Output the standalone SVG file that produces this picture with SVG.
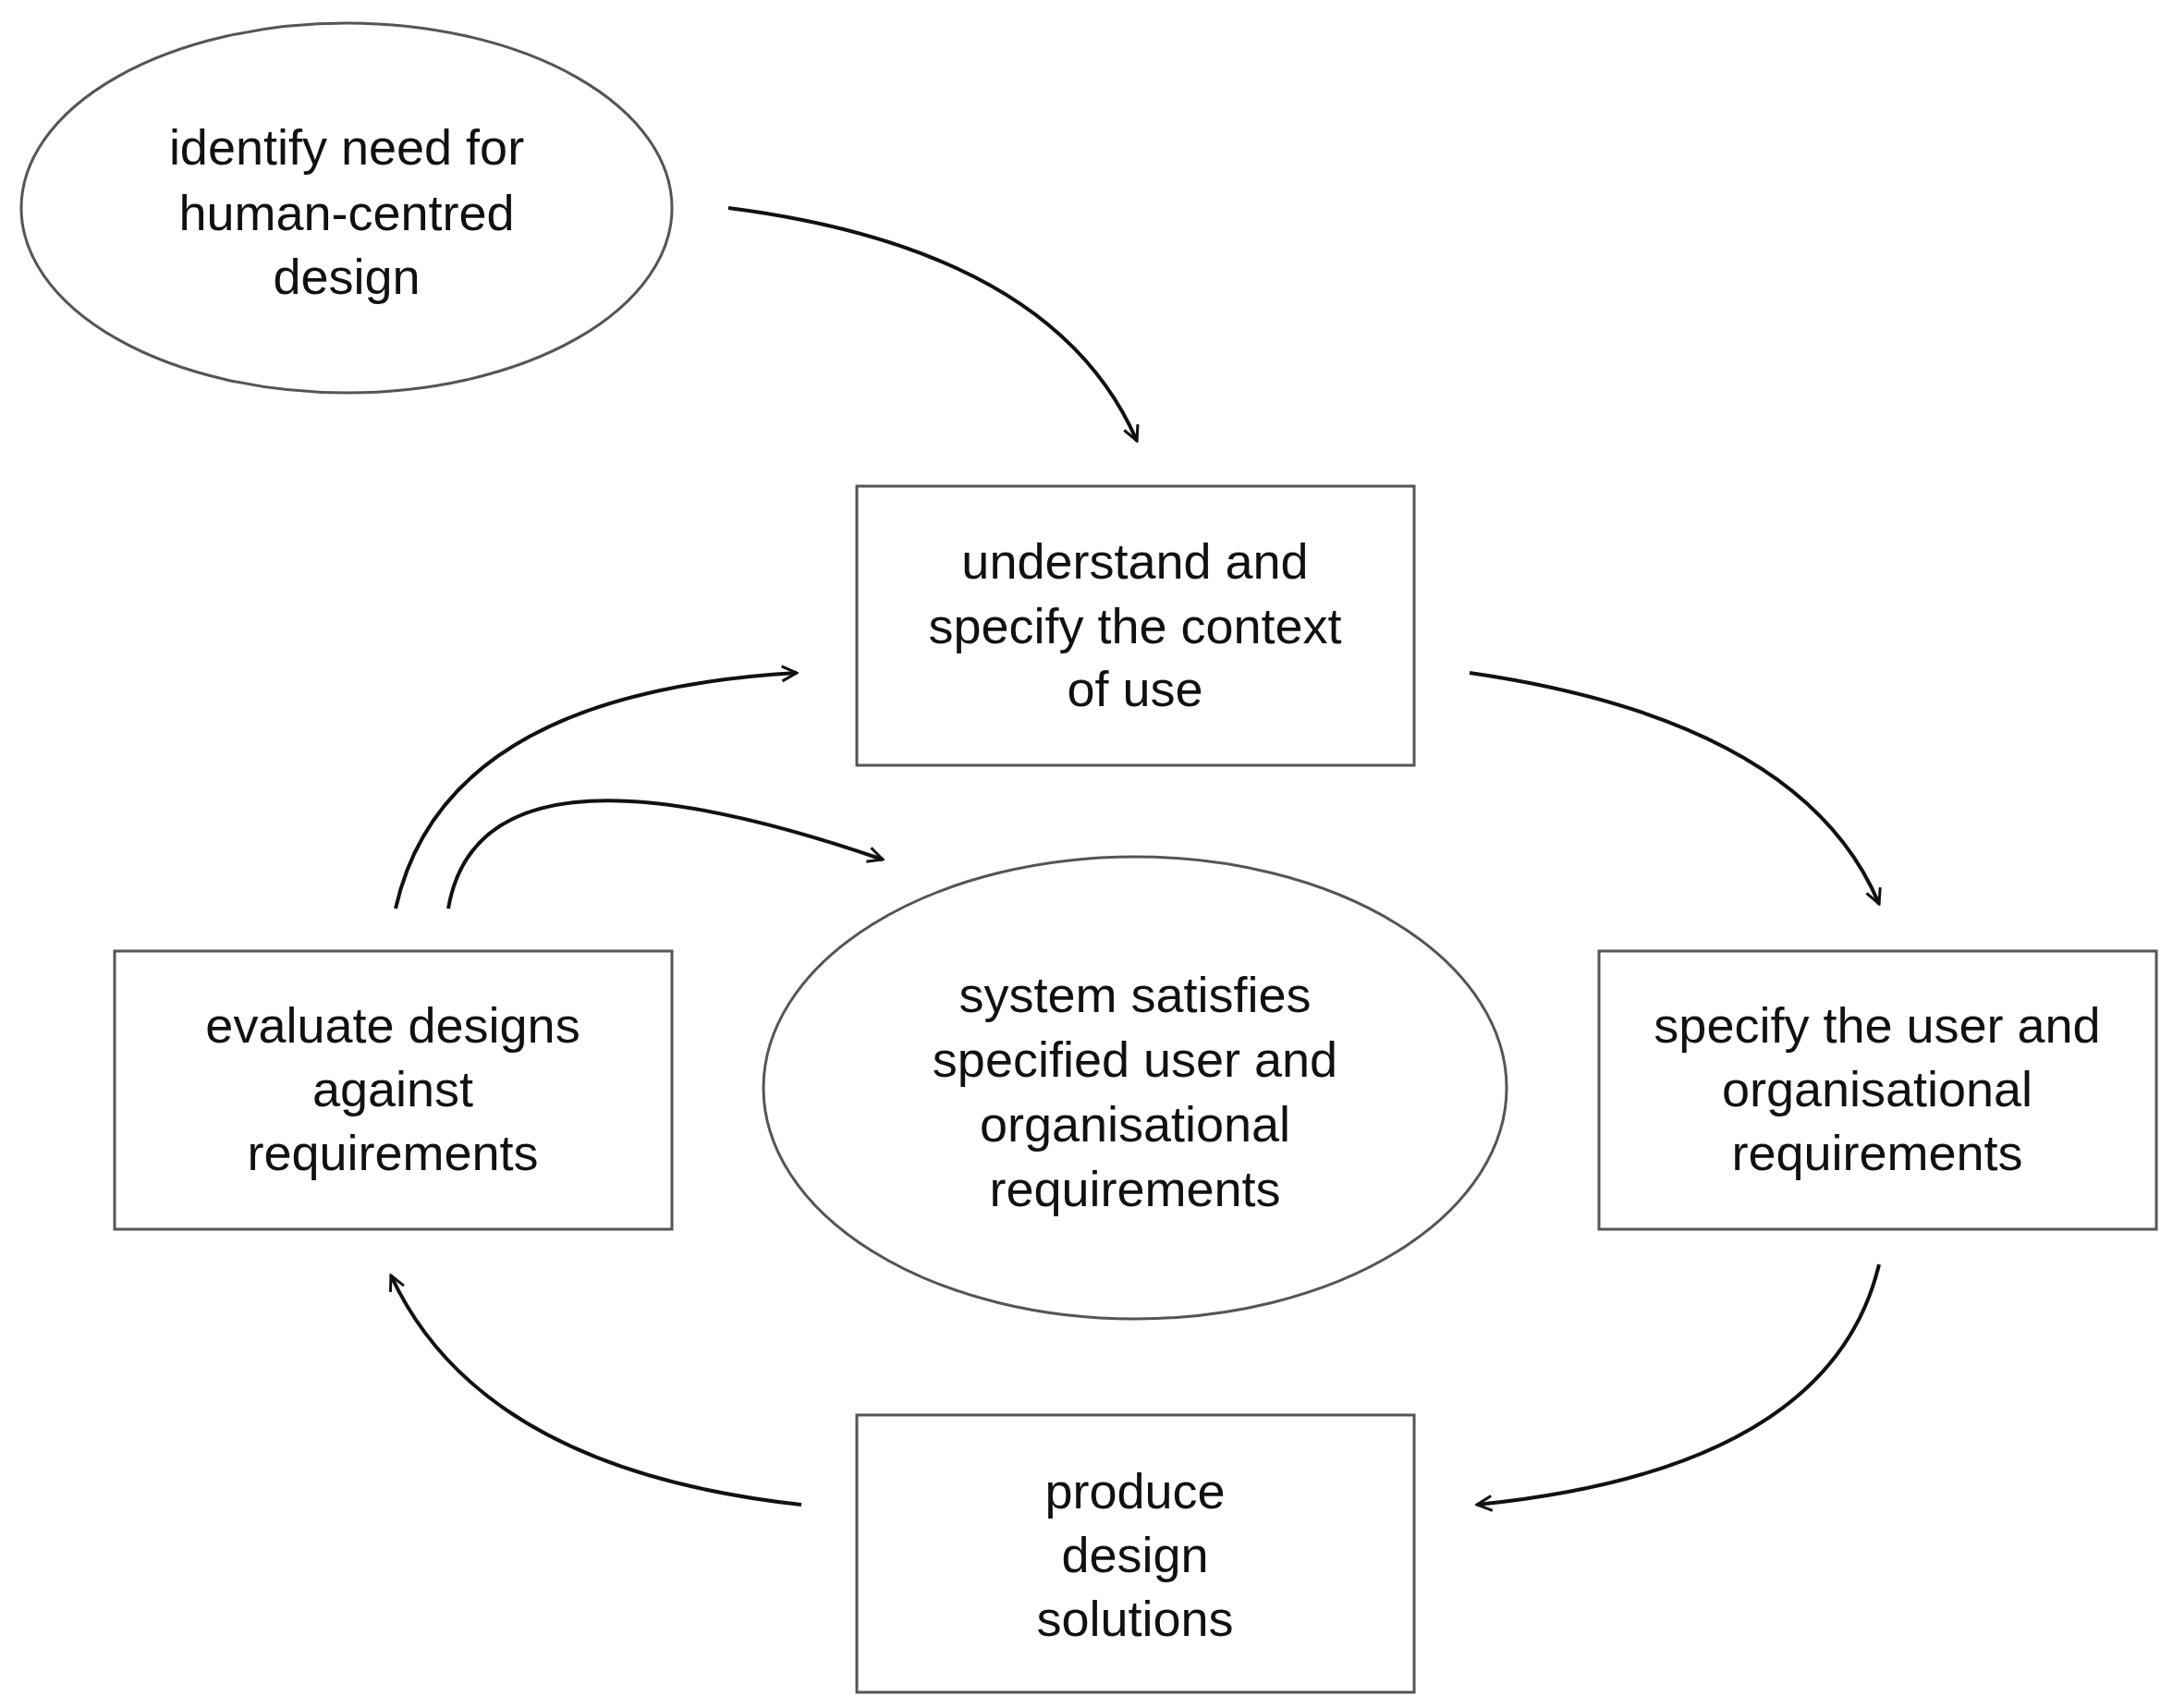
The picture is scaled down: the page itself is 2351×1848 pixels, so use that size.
<svg xmlns="http://www.w3.org/2000/svg" width="2351" height="1848" viewBox="0 0 2351 1848">
<style>
.n{fill:#fff;stroke:#555;stroke-width:3}
.t{font-family:"Liberation Sans",Arial,sans-serif;font-size:54px;fill:#111;text-anchor:middle}
.c{fill:none;stroke:#111;stroke-width:4}
</style>
<defs>
<marker id="a" viewBox="0 0 20 20" refX="18" refY="10" markerWidth="20" markerHeight="20" markerUnits="userSpaceOnUse" orient="auto">
<path d="M2,2 L18,10 L2,18" fill="none" stroke="#111" stroke-width="3"/>
</marker>
</defs>
<rect width="2351" height="1848" fill="#fff"/>
<g id="n1"><ellipse class="n" cx="375" cy="225" rx="352" ry="200"/>
<text class="t"><tspan x="375" y="178">identify need for</tspan><tspan x="375" y="249">human-centred</tspan><tspan x="375" y="318">design</tspan></text></g>
<g id="n2"><rect class="n" x="927" y="526" width="603" height="302"/>
<text class="t"><tspan x="1228" y="626">understand and</tspan><tspan x="1228" y="696">specify the context</tspan><tspan x="1228" y="764">of use</tspan></text></g>
<g id="n3"><rect class="n" x="1730" y="1029" width="603" height="301"/>
<text class="t"><tspan x="2031" y="1128">specify the user and</tspan><tspan x="2031" y="1197">organisational</tspan><tspan x="2031" y="1266">requirements</tspan></text></g>
<g id="n4"><rect class="n" x="927" y="1531" width="603" height="300"/>
<text class="t"><tspan x="1228" y="1632">produce</tspan><tspan x="1228" y="1701">design</tspan><tspan x="1228" y="1770">solutions</tspan></text></g>
<g id="n5"><rect class="n" x="124" y="1029" width="603" height="301"/>
<text class="t"><tspan x="425" y="1128">evaluate designs</tspan><tspan x="425" y="1197">against</tspan><tspan x="425" y="1266">requirements</tspan></text></g>
<g id="n6"><ellipse class="n" cx="1228" cy="1177" rx="402" ry="250"/>
<text class="t"><tspan x="1228" y="1095">system satisfies</tspan><tspan x="1228" y="1165">specified user and</tspan><tspan x="1228" y="1235">organisational</tspan><tspan x="1228" y="1305">requirements</tspan></text></g>
<g id="connectors">
<path class="c" marker-end="url(#a)" d="M788,225 Q1140,270 1230,477"/>
<path class="c" marker-end="url(#a)" d="M1590,728 Q1950,780 2033,978"/>
<path class="c" marker-end="url(#a)" d="M2033,1368 Q1980,1590 1598,1628"/>
<path class="c" marker-end="url(#a)" d="M867,1628 Q520,1590 423,1380"/>
<path class="c" marker-end="url(#a)" d="M428,983 Q480,750 862,728"/>
<path class="c" marker-end="url(#a)" d="M485,983 Q520,780 955,930"/>
</g>
</svg>
